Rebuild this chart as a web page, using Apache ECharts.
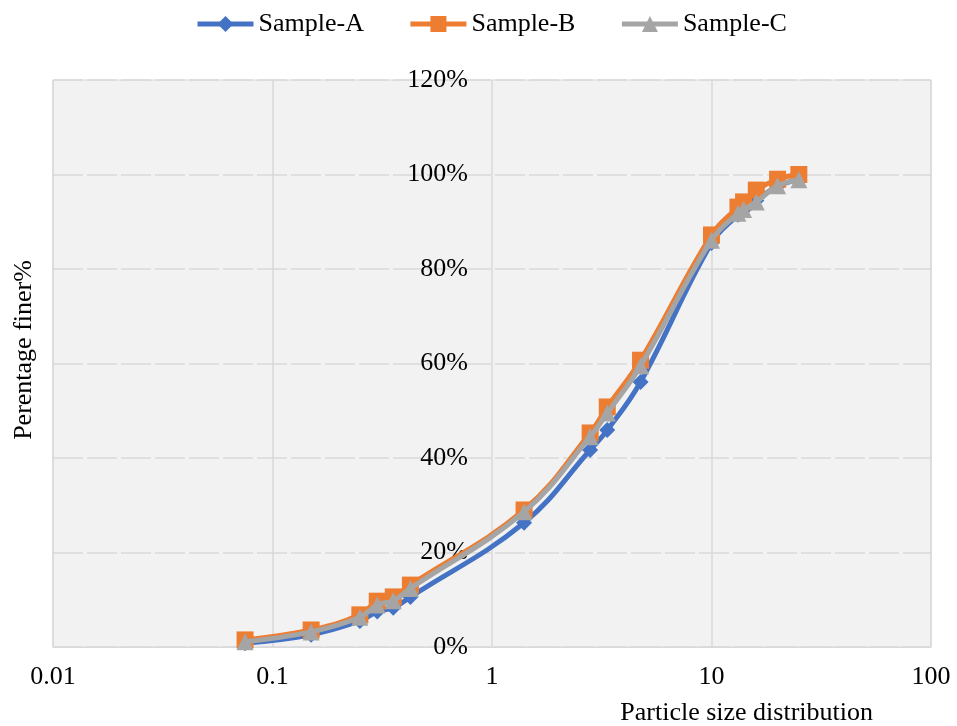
<!DOCTYPE html>
<html>
<head>
<meta charset="utf-8">
<script src="https://cdn.jsdelivr.net/npm/echarts@6/dist/echarts.min.js"></script>
<style>html,body{margin:0;padding:0;background:#fff;}#c{width:957px;height:726px;}</style>
</head>
<body>
<div id="c"></div>
<script>
var sizes = [0.075, 0.15, 0.25, 0.3, 0.355, 0.425, 1.4, 2.8, 3.35, 4.75, 10, 13.2, 14, 16, 20, 25];
var sampleA = [0.8, 2.6, 5.5, 7.5, 8.3, 10.6, 26.3, 41.7, 45.9, 56.1, 85.5, 91.5, 92.5, 94.5, 97.5, 99.0];
var sampleB = [1.5, 3.6, 6.8, 9.7, 10.6, 13.1, 29.0, 45.3, 50.8, 60.7, 87.2, 93.1, 94.2, 96.7, 99.0, 100];
var sampleC = [1.1, 3.2, 6.3, 8.9, 9.8, 12.4, 28.6, 44.5, 49.5, 59.5, 86.1, 91.8, 92.6, 94.2, 97.6, 98.9];
var seriesNames = ['Sample-A', 'Sample-B', 'Sample-C'];

function pairs(vals) { return sizes.map(function (s, i) { return [s, vals[i]]; }); }

var font = 'Liberation Serif';
var chart = echarts.init(document.getElementById('c'), null, { renderer: 'canvas' });
chart.setOption({
  animation: false,
  backgroundColor: '#ffffff',
  legend: {
    top: 6,
    left: 190,
    itemWidth: 56,
    itemHeight: 20,
    itemGap: 44,
    lineStyle: { width: 5 },
    textStyle: { fontFamily: font, fontSize: 26, color: '#000' },
    data: seriesNames
  },
  grid: {
    left: 53, right: 26, top: 80, bottom: 79,
    show: true, backgroundColor: '#f2f2f2', borderColor: '#d9d9d9', borderWidth: 1
  },
  xAxis: {
    type: 'log', logBase: 10, min: 0.01, max: 100,
    axisLine: { show: true, lineStyle: { color: '#d9d9d9', width: 1 } },
    axisTick: { show: false },
    splitLine: { show: true, lineStyle: { color: '#d9d9d9', width: 1.5 } },
    axisLabel: { fontFamily: font, fontSize: 26, color: '#000', margin: 17 }
  },
  yAxis: {
    type: 'value', min: 0, max: 120, interval: 20,
    position: 'left', offset: -439,
    axisLine: { show: false }, axisTick: { show: false },
    splitLine: { show: true, lineStyle: { color: '#d9d9d9', width: 1.5, type: [30, 4] } },
    axisLabel: { formatter: '{value}%', fontFamily: font, fontSize: 26, color: '#000', margin: 24 }
  },
  graphic: [
    { type: 'text', x: 24, y: 350, rotation: Math.PI / 2,
      style: { text: 'Perentage finer%', fontFamily: font, fontSize: 26, fill: '#000', align: 'center', verticalAlign: 'middle' } },
    { type: 'text', right: 84, top: 700, style: { text: 'Particle size distribution', fontFamily: font, fontSize: 26, fill: '#000' } }
  ],
  series: [
    { name: seriesNames[0], type: 'line', smooth: 0.4, data: pairs(sampleA), symbol: 'diamond', symbolSize: 16,
      lineStyle: { color: '#4472C4', width: 5 }, itemStyle: { color: '#4472C4' }, z: 2 },
    { name: seriesNames[1], type: 'line', smooth: 0.4, data: pairs(sampleB), symbol: 'rect', symbolSize: 17,
      lineStyle: { color: '#ED7D31', width: 5 }, itemStyle: { color: '#ED7D31' }, z: 3 },
    { name: seriesNames[2], type: 'line', smooth: 0.4, data: pairs(sampleC), symbol: 'triangle', symbolSize: 17,
      lineStyle: { color: '#A5A5A5', width: 5 }, itemStyle: { color: '#A5A5A5' }, z: 4 }
  ]
});
</script>
</body>
</html>
